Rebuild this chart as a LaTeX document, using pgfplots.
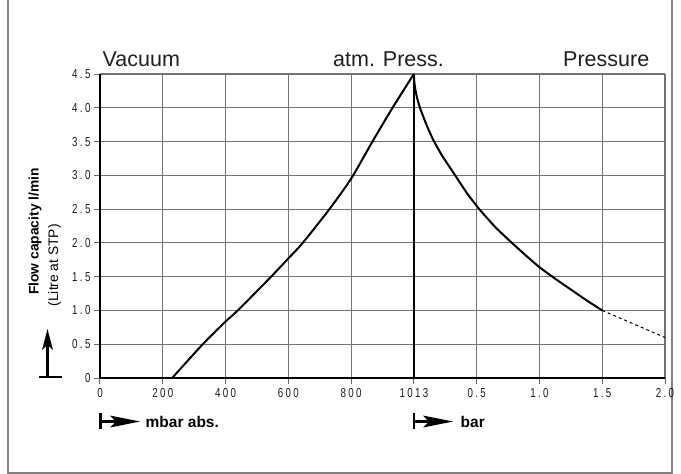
\documentclass[border=0pt]{standalone}
\usepackage{pgfplots}
\pgfplotsset{compat=1.18}
\usepackage{fontspec}
\setmainfont{Liberation Sans}
\newfontfamily\tickfont[FakeStretch=0.75,LetterSpace=18]{Liberation Sans}
\begin{document}
\begin{tikzpicture}[x=1pt,y=1pt]
\useasboundingbox (0,0) rectangle (681,-474);
% outer frame
\draw[line width=1.8pt, black!50] (8.3,2) -- (8.3,-473) -- (671.8,-473) -- (671.8,2);
\begin{axis}[
  at={(100pt,-378pt)}, anchor=south west,
  scale only axis, width=565pt, height=304pt,
  xmin=0, xmax=9, ymin=0, ymax=4.5,
  xtick={0,1,2,3,4,5,6,7,8,9},
  xticklabels={0,200,400,600,800,1013,0.5,1.0,1.5,2.0},
  ytick={0,0.5,1,1.5,2,2.5,3,3.5,4,4.5},
  yticklabels={0,0.5,1.0,1.5,2.0,2.5,3.0,3.5,4.0,4.5},
  tick pos=left, tick align=outside,
  major tick length=6pt,
  tick style={black!60, line width=1pt},
  grid=major,
  major grid style={black!55, line width=1.1pt},
  axis line style={draw=none},
  ticklabel style={font=\tickfont\fontsize{13}{15}\selectfont, text=black!90},
  yticklabel style={xshift=0pt},
  xticklabel style={yshift=-1pt},
  clip=false,
]
% axis lines
\draw[black, line width=1.8pt] (axis cs:0,0) -- (axis cs:0,4.5);
\draw[black, line width=1.8pt] (axis cs:0,0) -- (axis cs:9,0);
\draw[black, line width=1.3pt] (axis cs:5,0) -- (axis cs:5,4.5);
% vacuum branch
\addplot[black, line width=2pt, smooth, tension=0.4] coordinates {
 (1.149,0) (1.637,0.5) (2.0,0.836) (2.195,1.0) (2.726,1.5) (3.0,1.77)
 (3.23,2.0) (3.655,2.5) (4.0,2.95) (4.34,3.5) (4.66,4.0) (5,4.5)};
% pressure branch
\addplot[black, line width=2pt, smooth, tension=0.3] coordinates {
 (5,4.5) (5.005,4.40) (5.02,4.29) (5.05,4.15) (5.1,3.99) (5.2,3.75)
 (5.3,3.54) (5.45,3.29) (5.65,3.01) (5.85,2.73) (6.05,2.49) (6.3,2.23)
 (6.55,2.01) (6.8,1.80) (7.0,1.64) (7.25,1.47) (7.5,1.31) (7.75,1.15) (8.0,1.0)};
% extrapolated
\addplot[black, line width=1pt, dashed, smooth] coordinates {
 (8.0,1.0) (8.5,0.80) (9.0,0.60)};
\end{axis}
% region titles
\node[anchor=base west, inner sep=0, text=black!88, font=\fontsize{21.5}{24}\selectfont] at (102.5,-66) {Vacuum};
\node[anchor=base west, inner sep=0, text=black!88, font=\fontsize{21.5}{24}\selectfont] at (333,-66) {atm. Press.};
\node[anchor=base west, inner sep=0, text=black!88, font=\fontsize{21.5}{24}\selectfont] at (563,-66) {Pressure};
% y label
\node[rotate=90, anchor=base west, inner sep=0, font=\bfseries\fontsize{13.8}{15}\selectfont] at (38.5,-295) {Flow capacity l/min};
\node[rotate=90, anchor=base west, inner sep=0, font=\fontsize{13.8}{15}\selectfont] at (58,-306.5) {(Litre at STP)};
% vertical arrow
\draw[black, line width=2.8pt] (39,-377) -- (62,-377);
\draw[black, line width=2.4pt] (47.5,-377) -- (47.5,-342);
\fill[black] (42,-350) -- (47.5,-329) -- (53,-350) -- (47.5,-345) -- cycle;
% mbar arrow
\draw[black, line width=2.6pt] (100.5,-413) -- (100.5,-429);
\draw[black, line width=2.4pt] (100.5,-421.5) -- (118,-421.5);
\fill[black] (110,-415.5) -- (140,-421.5) -- (110,-427.5) -- (116,-421.5) -- cycle;
\node[anchor=base west, inner sep=0, font=\bfseries\fontsize{15.5}{18}\selectfont] at (145.5,-427.5) {mbar abs.};
% bar arrow
\draw[black, line width=2.6pt] (414,-413) -- (414,-429);
\draw[black, line width=2.4pt] (414,-421.5) -- (431,-421.5);
\fill[black] (423,-415.5) -- (453,-421.5) -- (423,-427.5) -- (429,-421.5) -- cycle;
\node[anchor=base west, inner sep=0, font=\bfseries\fontsize{15.5}{18}\selectfont] at (460.5,-427) {bar};
\end{tikzpicture}
\end{document}
